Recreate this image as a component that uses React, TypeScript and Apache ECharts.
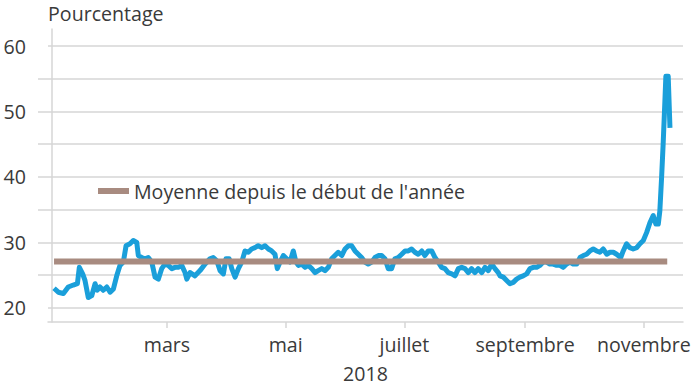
import React, { useEffect, useRef } from "react";
import * as echarts from "echarts";

// Day of year 2018 (0 = 1 January) for each observation
const dayOfYear = [
  1.0, 3.2, 5.8, 8.3, 10.9, 13.0, 14.0, 15.7, 16.9, 18.6, 20.4, 22.1, 23.2, 24.6, 26.3, 28.1, 29.8, 31.5, 33.2, 34.9,
  36.6, 38.0, 40.0, 41.7, 43.5, 44.3, 46.0, 47.7, 49.4, 51.2, 52.9, 54.6, 56.3, 58.0, 59.7, 61.5, 63.1, 64.8, 66.6, 68.3,
  69.2, 70.9, 73.4,
  76.0, 78.6, 81.1, 82.8, 84.6, 86.3, 88.0, 89.3, 91.0, 92.3, 94.0, 95.7, 97.4, 99.1, 100.8, 102.5, 104.2, 105.9, 107.7, 109.4,
  111.1, 112.8, 114.5, 115.7, 117.1, 118.8, 120.5, 122.2, 123.9, 125.3, 126.5, 128.2, 129.9, 131.6, 133.4, 135.1, 136.7, 138.5, 140.2, 141.9,
  143.6, 145.3, 147.0, 148.8, 150.5,
  152.2, 153.9, 155.6, 157.3, 159.0, 160.7, 162.4, 164.2, 165.9, 167.6, 169.3, 171.0, 172.7, 174.4, 176.1, 177.8, 179.6, 181.3, 183.0, 184.7,
  186.4, 188.1, 189.9, 191.5, 193.2, 195.0, 196.7, 198.4, 200.1, 201.8, 203.5, 205.3, 207.0, 208.7, 210.4, 212.1, 213.8, 215.5, 217.2, 218.9,
  220.7, 222.4, 224.1, 225.8, 227.5, 229.2,
  230.1, 231.8, 233.5, 235.2, 236.9, 238.6, 240.3, 242.0, 243.8, 245.5, 247.2, 248.9, 250.6, 252.3, 254.1, 255.7, 257.4, 259.2, 260.9, 262.6,
  264.3, 266.0, 267.7, 269.5, 271.2, 272.9, 274.6, 276.3, 278.0, 279.7, 281.4, 283.1, 284.9, 286.6, 288.3, 290.0, 292.1, 293.4, 295.1, 296.8,
  298.5, 300.3, 302.0, 303.7, 305.4, 307.1, 308.8, 310.2, 311.4, 312.2, 313.1, 313.9, 314.8, 315.3, 316.5, 317.4,
];

// Percentage series (blue line)
const pourcentage = [
  23.0, 22.4, 22.2, 23.2, 23.5, 23.7, 26.2, 25.2, 24.2, 21.6, 21.9, 23.7, 22.7, 23.2, 22.7, 23.2, 22.4, 22.9, 24.9, 26.5,
  27.0, 29.5, 29.8, 30.3, 30.0, 28.0, 27.7, 27.5, 27.7, 27.0, 24.7, 24.4, 26.0, 26.7, 26.5, 26.0, 26.2, 26.2, 26.5, 25.4,
  24.4, 25.4, 24.9,
  25.7, 26.7, 27.5, 27.7, 27.2, 25.7, 25.2, 27.5, 27.5, 26.0, 24.7, 26.0, 27.0, 28.7, 28.5, 29.0, 29.2, 29.5, 29.2, 29.5,
  29.0, 28.7, 28.2, 26.0, 27.0, 28.0, 27.5, 27.0, 28.7, 27.0, 26.5, 26.7, 26.2, 26.5, 26.0, 25.4, 25.7, 26.0, 25.7, 26.2,
  27.5, 28.0, 28.5, 28.0, 29.0,
  29.5, 29.5, 28.7, 28.2, 27.7, 27.0, 26.7, 27.0, 27.7, 28.0, 28.0, 27.5, 26.0, 26.0, 27.5, 27.7, 28.2, 28.7, 28.7, 29.0,
  28.5, 28.2, 28.7, 28.0, 28.7, 28.7, 27.7, 27.0, 26.2, 26.0, 25.4, 25.2, 24.9, 26.0, 26.2, 26.0, 25.4, 26.0, 25.4, 26.0,
  25.4, 26.2, 25.7, 26.7, 26.0, 25.4,
  24.9, 24.7, 24.2, 23.7, 23.9, 24.4, 24.7, 24.9, 25.2, 26.0, 26.2, 26.2, 26.5, 27.0, 27.0, 26.7, 26.7, 26.5, 26.5, 26.2,
  26.7, 27.0, 26.7, 26.7, 27.7, 28.0, 28.2, 28.7, 29.0, 28.7, 28.5, 29.0, 28.2, 28.5, 28.5, 28.2, 27.7, 28.7, 29.8, 29.2,
  29.0, 29.2, 29.8, 30.3, 31.5, 33.0, 34.1, 32.8, 32.8, 34.8, 39.9, 45.0, 51.6, 55.4, 55.4, 47.5,
];

// Year-to-date average (brown line)
const moyenneDays = [1, 316];
const moyenneValue = 27.1;
const moyenneLabel = "Moyenne depuis le début de l'année";

// Month ticks (day of year of the first of the month)
const monthTickDays = [59, 120, 181, 243, 304];
const monthTickLabels = ["mars", "mai", "juillet", "septembre", "novembre"];

const yLabelValues = [20, 30, 40, 50, 60];
const yGridValues = [20, 25, 30, 35, 40, 45, 50, 55, 60];
const yTickValues = [25, 30, 35, 40, 45, 50, 55];

const FONT = "'Open Sans', 'Noto Sans', sans-serif";
const FS = 19.6;
const TEXT = "#3a3a3a";
const GRID = "#d6d6d6";

export default function App() {
  const ref = useRef<HTMLDivElement>(null);

  useEffect(() => {
    if (!ref.current) return;
    const chart = echarts.init(ref.current, undefined, { renderer: "svg" });

    const blueData = dayOfYear.map((d, i) => [d, pourcentage[i]]);
    const avgData = moyenneDays.map((d) => [d, moyenneValue]);

    chart.setOption({
      animation: false,
      textStyle: { fontFamily: FONT },
      grid: { left: 48, right: 12, top: 29, bottom: 68, containLabel: false },
      legend: {
        data: [moyenneLabel],
        left: 98,
        top: 181,
        padding: 0,
        icon: "rect",
        itemWidth: 31,
        itemHeight: 6,
        textStyle: { fontFamily: FONT, fontSize: FS, color: TEXT },
      },
      xAxis: {
        type: "value",
        min: -2.1,
        max: 324.1,
        name: "2018",
        nameLocation: "middle",
        nameGap: 41,
        nameTextStyle: { fontFamily: FONT, fontSize: FS, color: TEXT },
        axisLine: { show: true, lineStyle: { color: GRID, width: 1.5 } },
        axisTick: { show: true, length: 6, customValues: monthTickDays, lineStyle: { color: GRID, width: 1.5 } },
        axisLabel: {
          customValues: monthTickDays,
          margin: 12,
          fontFamily: FONT,
          fontSize: FS,
          color: TEXT,
          formatter: (v: number) => {
            const idx = monthTickDays.findIndex((d) => Math.abs(d - v) < 0.5);
            return idx >= 0 ? monthTickLabels[idx] : "";
          },
        },
        splitLine: { show: false },
      },
      yAxis: [
        {
          type: "value",
          min: 17.85,
          max: 62.6,
          name: "Pourcentage",
          nameLocation: "end",
          nameGap: 6,
          nameTextStyle: { fontFamily: FONT, fontSize: FS, color: TEXT, align: "left", padding: [0, 0, 0, -4] },
          axisLine: { show: true, lineStyle: { color: GRID, width: 1.5 } },
          axisTick: { show: false, customValues: yGridValues },
          axisLabel: {
            customValues: yLabelValues,
            margin: 22,
            fontFamily: FONT,
            fontSize: FS,
            color: TEXT,
          },
          splitLine: { show: true, lineStyle: { color: GRID, width: 1.5 } },
        },
        {
          type: "value",
          min: 17.85,
          max: 62.6,
          position: "left",
          axisLine: { show: false },
          axisTick: { show: true, length: 10, customValues: yTickValues, lineStyle: { color: GRID, width: 1.5 } },
          axisLabel: { show: false },
          splitLine: { show: false },
        },
      ],
      series: [
        {
          name: "Pourcentage",
          type: "line",
          data: blueData,
          showSymbol: false,
          symbol: "none",
          lineStyle: { color: "#1a9fda", width: 5, join: "round" },
          itemStyle: { color: "#1a9fda" },
          z: 2,
        },
        {
          name: moyenneLabel,
          type: "line",
          data: avgData,
          showSymbol: false,
          symbol: "none",
          lineStyle: { color: "#a88b80", width: 6 },
          itemStyle: { color: "#a88b80" },
          z: 3,
        },
      ],
    });

    return () => chart.dispose();
  }, []);

  return <div ref={ref} style={{ width: 695, height: 390, position: "absolute", left: 0, top: 0 }} />;
}
